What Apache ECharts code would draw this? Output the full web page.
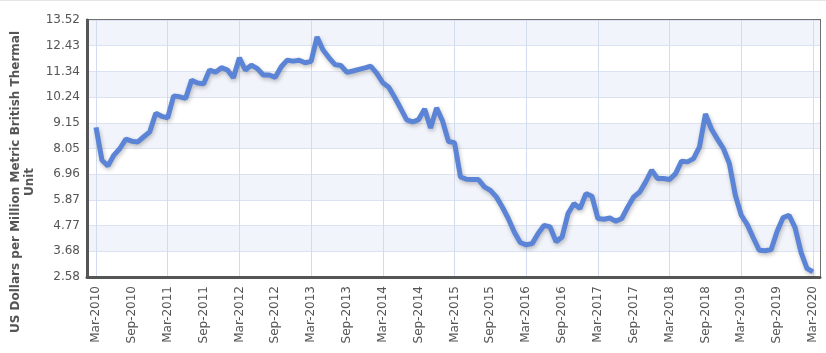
<!DOCTYPE html>
<html>
<head>
<meta charset="utf-8">
<script src="https://cdn.jsdelivr.net/npm/echarts@6/dist/echarts.min.js"></script>
<style>
  html, body { margin: 0; padding: 0; background: #fff; }
  #chart { width: 826px; height: 353px; }
</style>
</head>
<body>
<div id="chart"></div>
<script>
// monthly price, Mar-2010 .. Mar-2020
const months = []
const monNames = ['Jan', 'Feb', 'Mar', 'Apr', 'May', 'Jun', 'Jul', 'Aug', 'Sep', 'Oct', 'Nov', 'Dec']
for (let y = 2010, m = 2; y < 2020 || (y === 2020 && m <= 2); m++) {
  if (m === 12) { m = 0; y++ }
  if (y === 2020 && m > 2) break
  months.push(monNames[m] + '-' + y)
}

const prices = [
  8.95, 7.55, 7.31, 7.77, 8.05, 8.45, 8.36, 8.33, 8.55, 8.76, 9.55, 9.42,
  9.36, 10.29, 10.25, 10.18, 10.96, 10.84, 10.80, 11.39, 11.30, 11.49, 11.39, 11.06,
  11.91, 11.39, 11.60, 11.45, 11.18, 11.18, 11.08, 11.53, 11.81, 11.77, 11.81, 11.70,
  11.76, 12.80, 12.24, 11.91, 11.62, 11.58, 11.29, 11.35, 11.42, 11.48, 11.55, 11.25,
  10.85, 10.66, 10.22, 9.75, 9.27, 9.18, 9.28, 9.73, 8.92, 9.78, 9.22, 8.35,
  8.30, 6.84, 6.74, 6.73, 6.73, 6.42, 6.27, 5.99, 5.56, 5.07, 4.50, 4.05,
  3.95, 4.00, 4.43, 4.78, 4.71, 4.08, 4.28, 5.28, 5.71, 5.49, 6.13, 6.02,
  5.07, 5.04, 5.09, 4.95, 5.07, 5.56, 5.99, 6.20, 6.63, 7.13, 6.77, 6.77,
  6.73, 6.98, 7.51, 7.48, 7.62, 8.12, 9.52, 8.88, 8.45, 8.05, 7.41, 6.06,
  5.21, 4.81, 4.25, 3.72, 3.70, 3.75, 4.53, 5.11, 5.21, 4.68, 3.63, 2.94,
  2.80
]

const yTickLabels = ['2.58', '3.68', '4.77', '5.87', '6.96', '8.05', '9.15', '10.24', '11.34', '12.43', '13.52']
const yMin = 2.58
const yMax = 13.52
const yStep = 1.094

const myChart = echarts.init(document.getElementById('chart'))

const option = {
  animation: false,
  grid: [
    // box with bands + horizontal lines
    { left: 87, right: 6, top: 20, bottom: 76, show: true, borderColor: '#707070', borderWidth: 2 },
    // the data area (padded inside the box)
    { left: 96, right: 13, top: 20, bottom: 76 }
  ],
  xAxis: [
    {
      gridIndex: 0, type: 'value', min: 0, max: 1,
      axisLine: { show: true, lineStyle: { color: '#555', width: 3 } },
      axisTick: { show: false }, axisLabel: { show: false }, splitLine: { show: false }
    },
    {
      gridIndex: 1, type: 'category', data: months, boundaryGap: false,
      axisLine: { show: false }, axisTick: { show: false },
      axisLabel: {
        interval: (i) => i % 6 === 0,
        rotate: 90, margin: 9, color: '#555', fontSize: 12, fontFamily: 'DejaVu Sans'
      },
      splitLine: {
        show: true, interval: (i) => i % 12 === 0,
        lineStyle: { color: '#d2dcee', width: 1 }
      }
    }
  ],
  yAxis: [
    {
      gridIndex: 0, type: 'value', min: yMin, max: yMax, interval: yStep,
      axisLine: { show: true, lineStyle: { color: '#555', width: 3 } },
      axisTick: { show: false },
      axisLabel: {
        margin: 7, color: '#555', fontSize: 12, fontFamily: 'DejaVu Sans',
        formatter: (v) => yTickLabels[Math.round((v - yMin) / yStep)] || ''
      },
      splitLine: { show: true, lineStyle: { color: '#dbe2f1', width: 1 } },
      splitArea: { show: true, areaStyle: { color: ['#ffffff', '#f2f4fb'] } }
    },
    {
      gridIndex: 1, type: 'value', min: yMin, max: yMax,
      show: false
    }
  ],
  graphic: [
    { type: 'rect', shape: { x: 0, y: 0, width: 826, height: 1 }, style: { fill: '#e6e6e6' } },
    {
      type: 'text', x: 23, y: 182, rotation: Math.PI / 2,
      style: {
        text: 'US Dollars per Million Metric British Thermal\nUnit',
        font: 'bold 12px "DejaVu Sans"', fill: '#555',
        align: 'center', verticalAlign: 'middle', lineHeight: 14
      }
    }
  ],
  series: [
    {
      type: 'line', xAxisIndex: 1, yAxisIndex: 1,
      data: prices,
      showSymbol: false,
      lineStyle: {
        color: '#5b84d6', width: 5,
        shadowColor: 'rgba(0,0,0,0.25)', shadowBlur: 4, shadowOffsetX: 1, shadowOffsetY: 2
      }
    }
  ]
}
myChart.setOption(option)
</script>
</body>
</html>
